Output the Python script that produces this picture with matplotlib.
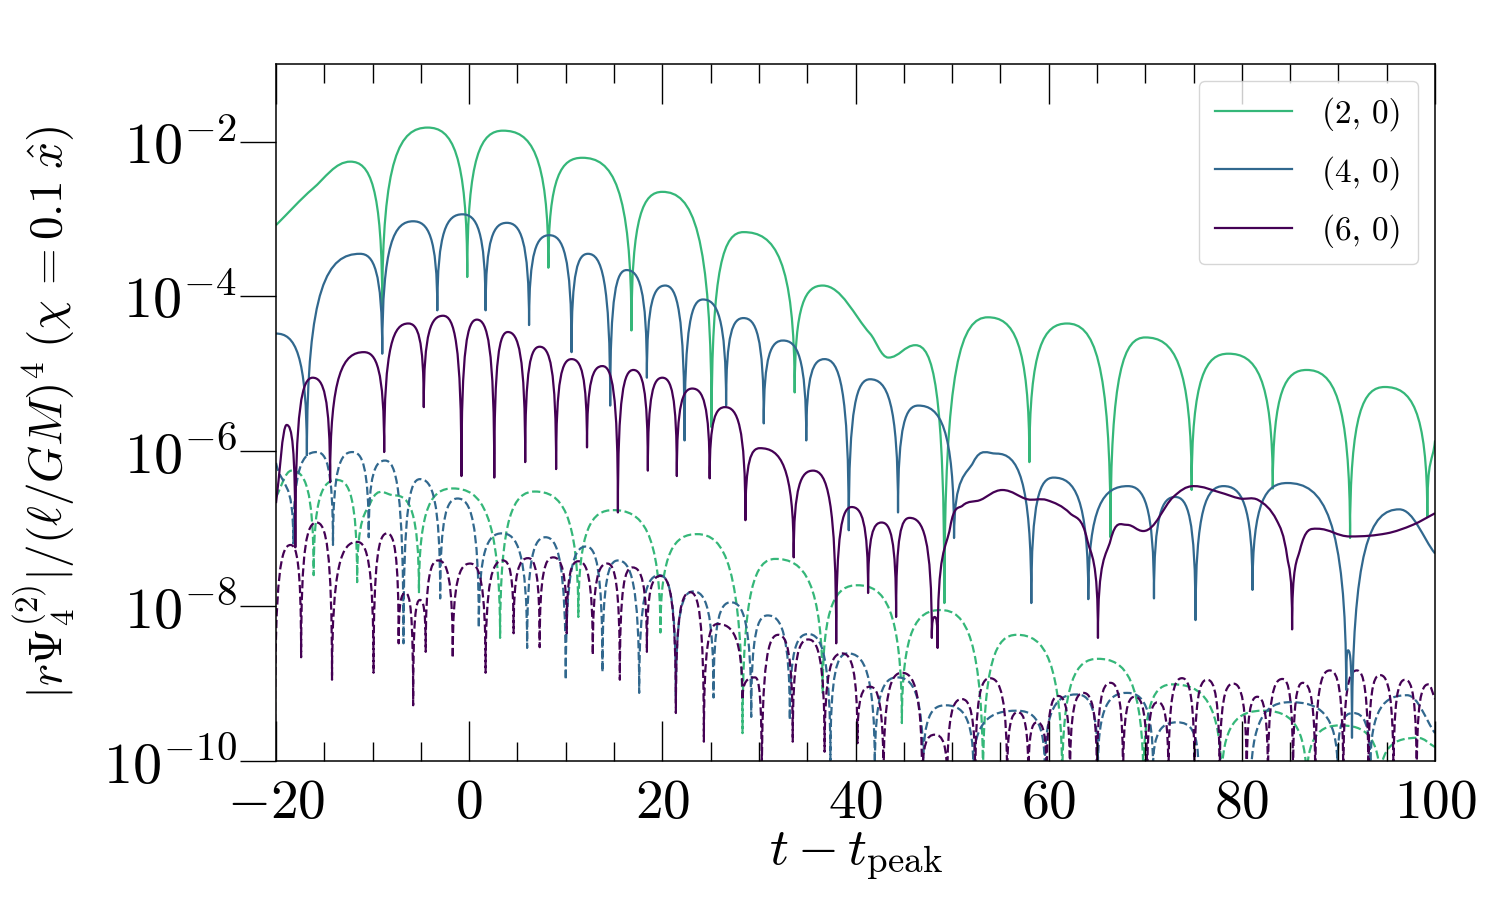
"""
|r Psi_4^(2)| for the (2,0), (4,0), (6,0) modes, chi = 0.1 x-hat.
Solid and dashed curves are drawn as smooth arches between the read-off
extrema (cusps 'c', smooth peaks 'p', pass-through points 'e').
"""
import numpy as np
import matplotlib
matplotlib.use("Agg")
import matplotlib.pyplot as plt
from matplotlib.path import Path
from matplotlib.patches import PathPatch
from matplotlib.lines import Line2D
from matplotlib.font_manager import FontProperties
from matplotlib.ticker import FixedLocator, FuncFormatter, MultipleLocator, NullLocator

plt.rcParams["mathtext.fontset"] = "cm"
plt.rcParams["font.family"] = "serif"
plt.rcParams["font.serif"] = ["DejaVu Serif"]

GREEN = "#35b779"
BLUE = "#31688e"
PURPLE = "#440154"

LABELS = ["(2, 0)", "(4, 0)", "(6, 0)"]

# ---- (2,0) solid ----
g_t = [-20, -16.2, -12.3, -9.0, -4.3, -0.2, 3.5, 8.2, 11.7, 16.8, 20.0, 25.1, 28.4, 33.7,
       36.6, 41.5, 43.4, 46.2, 49.2, 53.7, 58.0, 61.9, 66.4, 70.0, 74.8, 78.6, 83.2, 86.7,
       91.2, 94.8, 99.2, 100]
g_lg = [-3.08, -2.61, -2.26, -4.15, -1.82, -3.75, -1.86, -3.63, -2.21, -4.44, -2.65, -5.69,
        -3.17, -5.24, -3.86, -4.48, -4.79, -4.63, -7.96, -4.27, -6.14, -4.35, -7.11, -4.53,
        -6.50, -4.74, -6.48, -4.95, -7.12, -5.17, -6.85, -5.86]
g_k = "ee" + "pc" * 6 + "p" + "eppc" + "pc" * 6 + "e"

# ---- (4,0) solid ----
b_t = [-20, -16.8, -11.3, -9.0, -5.8, -3.3, -0.7, 1.7, 3.9, 6.2, 8.3, 10.6, 12.3, 14.6, 16.3,
       18.4, 20.3, 22.3, 24.2, 26.6, 28.4, 30.5, 32.5, 34.9, 36.8, 39.3, 41.5, 44.4, 46.5,
       50.2, 52.2, 54.6, 58.2, 60.5, 64.1, 68.2, 70.9, 73.1, 75.2, 78.1, 81.1, 84.7, 90.8,
       91.0, 91.4, 96.3, 100]
b_lg = [-4.48, -6.05, -3.45, -4.74, -3.03, -4.18, -2.94, -4.18, -3.05, -4.37, -3.21, -4.72,
        -3.45, -5.41, -3.66, -5.05, -3.86, -5.86, -4.04, -5.41, -4.28, -5.64, -4.57, -5.86,
        -4.81, -7.02, -5.07, -6.79, -5.41, -7.12, -6.14, -6.03, -7.96, -6.34, -7.91, -6.45,
        -7.90, -6.59, -8.18, -6.45, -7.79, -6.41, -9.08, -8.57, -9.70, -6.75, -7.32]
b_k = "pc" * 15 + "e" + "pc" * 7 + "pe"

# ---- (6,0) solid ----
p_t = [-20, -18.9, -18.0, -16.2, -14.4, -10.9, -8.8, -6.3, -4.7, -2.7, -0.8, 0.8, 2.6, 4.0,
       5.8, 7.3, 9.0, 10.6, 12.2, 13.8, 15.4, 17.0, 18.5, 20.0, 21.5, 23.1, 24.9, 26.5, 28.6,
       30.1, 33.6, 35.6, 38.0, 39.6, 41.3, 42.7, 44.2, 45.6, 47.9, 48.2, 48.5, 49.8, 51.1,
       52.9, 55.2, 57.8, 59.8, 62.2, 64.0, 65.1, 66.4, 68.1, 69.8, 72.9, 75.0, 77.7, 79.8,
       81.7, 83.6, 84.7, 85.2, 86.0, 87.8, 91.2, 95.0, 97.7, 100]
p_lg = [-6.67, -5.66, -7.24, -5.05, -6.40, -4.72, -6.01, -4.35, -5.43, -4.25, -6.32, -4.30,
        -6.34, -4.46, -6.14, -4.65, -6.23, -4.81, -5.95, -4.90, -6.79, -4.95, -6.25, -5.05,
        -6.32, -5.19, -6.35, -5.43, -6.89, -5.96, -7.37, -6.25, -8.48, -6.72, -7.83, -6.92,
        -8.14, -6.86, -8.41, -8.14, -8.54, -6.98, -6.70, -6.63, -6.50, -6.62, -6.63, -6.80,
        -7.15, -8.41, -7.15, -6.95, -7.03, -6.59, -6.45, -6.53, -6.61, -6.63, -6.89, -7.37,
        -8.30, -7.28, -7.00, -7.10, -7.06, -6.95, -6.80]
p_k = "e" + "pc" * 20 + "eeepeeeece" + "ppep" + "eeeeece" + "ppeee"

# ---- (2,0) dashed ----
gd_t = [-20, -18.4, -16.1, -13.7, -11.6, -10.2, -7.7, -5.2, -1.7, 3.2, 6.8, 11.3, 14.9, 19.8,
        23.6, 28.3, 31.7, 36.6, 40.2, 44.8, 48.8, 53.2, 56.7, 61.4, 65.1, 69.8, 72.8, 77.9,
        82.2, 86.7, 90.2, 94.3, 98.2, 100]
gd_lg = [-6.59, -6.25, -7.60, -6.37, -7.69, -6.66, -6.57, -7.82, -6.48, -8.41, -6.52, -8.14,
         -6.76, -8.34, -7.07, -9.64, -7.39, -9.12, -7.73, -9.51, -8.05, -10.3, -8.37, -10.3,
         -8.68, -10.3, -9.01, -10.3, -9.35, -10.3, -9.54, -10.3, -9.70, -9.82]
gd_k = "epcpce" + "p" + "cp" * 13 + "e"

# ---- (4,0) dashed ----
bd_t = [-20, -18.2, -15.8, -14.1, -12.1, -10.4, -8.7, -6.8, -5.1, -3.0, -1.2, 1.0, 3.4, 6.0,
        7.9, 10.0, 12.1, 13.8, 15.4, 17.6, 19.7, 21.4, 23.2, 25.3, 27.1, 29.2, 30.9, 33.2,
        35.1, 37.4, 39.2, 42.0, 44.3, 47.0, 49.3, 52.2, 56.7, 59.6, 62.9, 65.1, 68.1, 70.8,
        73.3, 75.5, 78.2, 80.9, 85.0, 89.9, 91.5, 93.3, 97.1, 100]
bd_lg = [-6.15, -7.19, -6.01, -7.21, -6.01, -7.11, -6.12, -8.48, -6.36, -7.90, -6.61, -8.28,
         -7.06, -8.54, -7.11, -8.95, -7.23, -8.85, -7.41, -9.12, -7.60, -9.20, -7.81, -9.18,
         -7.95, -9.43, -8.12, -9.47, -8.36, -9.99, -8.61, -10.1, -8.92, -10.1, -9.28, -10.1,
         -9.35, -10.1, -9.14, -10.1, -9.12, -10.1, -9.50, -10.1, -10.15, -10.4, -9.24, -10.1,
         -9.38, -10.1, -9.15, -9.64]
bd_k = "e" + "cp" * 25 + "e"

# ---- (6,0) dashed ----
pd_t = [-20.1, -18.5, -17.4, -15.8, -14.2, -11.6, -9.9, -8.5, -7.3, -6.6, -5.8, -5.1, -4.5,
        -3.2, -1.7, 0.1, 1.7, 3.5, 4.6, 6.1, 7.3, 8.7, 10.1, 11.3, 12.8, 14.3, 15.6, 16.9,
        18.4, 19.8, 21.4, 22.9, 24.3, 25.7, 28.3, 29.6, 30.3, 32.0, 33.5, 35.1, 36.8, 38.6,
        40.2, 41.5, 42.9, 44.8, 46.9, 48.2, 49.5, 51.0, 52.4, 53.9, 55.7, 56.8, 57.9, 58.8,
        59.8, 61.0, 62.2, 63.6, 65.0, 66.4, 67.7, 68.9, 70.2, 71.3, 72.4, 73.8, 75.1, 76.4,
        77.7, 79.1, 80.5, 81.6, 82.7, 84.2, 85.3, 86.3, 87.6, 89.1, 90.5, 91.9, 93.1, 94.3,
        95.7, 96.9, 98.1, 99.3, 100]
pd_lg = [-9.5, -7.21, -8.66, -6.92, -8.95, -7.17, -8.86, -7.06, -8.48, -7.83, -9.28, -7.92,
         -8.59, -7.41, -8.67, -7.45, -8.86, -7.41, -8.35, -7.38, -8.53, -7.37, -8.35, -7.42,
         -8.63, -7.45, -8.95, -7.50, -8.59, -7.61, -9.38, -7.82, -9.75, -8.23, -9.21, -8.92,
         -10.3, -8.37, -9.75, -8.43, -9.88, -8.61, -9.77, -9.04, -10.3, -8.86, -10.3, -9.66,
         -10.3, -9.20, -10.3, -8.93, -10.3, -9.37, -10.3, -9.50, -10.3, -9.16, -10.3, -9.12,
         -10.3, -8.99, -10.3, -9.17, -10.3, -9.24, -10.3, -8.93, -10.3, -8.95, -10.3, -9.00,
         -10.3, -9.17, -10.3, -8.94, -10.3, -8.99, -10.3, -8.83, -10.3, -8.83, -10.3, -8.89,
         -10.3, -8.95, -10.3, -9.01, -9.2]
pd_k = "cp" * 44 + "e"


def _handle(pts, kinds, i, step):
    """Bezier handle leaving node i towards node i+step (in t, log10 units)."""
    j = i + step
    d = pts[j] - pts[i]
    kind = kinds[i]
    if kind == "c":
        return np.array([0.0, 0.85 * d[1]])
    if kind == "p":
        frac = 0.6 if kinds[j] == "c" else 0.4
        return np.array([frac * d[0], 0.0])
    prev = pts[max(i - 1, 0)]
    nxt = pts[min(i + 1, len(pts) - 1)]
    tang = nxt - prev
    scale = abs(d[0]) / max(abs(tang[0]), 1e-9) / 3.0
    return step * tang * scale


def curve_path(t, lg, kinds):
    pts = np.column_stack([t, lg]).astype(float)
    if len(kinds) != len(pts):
        raise ValueError(f"{len(kinds)} kinds for {len(pts)} points")
    verts = [pts[0]]
    codes = [Path.MOVETO]
    for i in range(len(pts) - 1):
        verts.append(pts[i] + _handle(pts, kinds, i, +1))
        verts.append(pts[i + 1] + _handle(pts, kinds, i + 1, -1))
        verts.append(pts[i + 1])
        codes += [Path.CURVE4] * 3
    verts = np.array(verts)
    verts[:, 1] = 10.0 ** verts[:, 1]
    return Path(verts, codes)


fig = plt.figure(figsize=(15, 9), dpi=100)
ax = fig.add_axes([0.184, 0.1544, 0.7727, 0.7744])
ax.set_yscale("log")

series = [
    (gd_t, gd_lg, gd_k, GREEN, "--"),
    (bd_t, bd_lg, bd_k, BLUE, "--"),
    (pd_t, pd_lg, pd_k, PURPLE, "--"),
    (g_t, g_lg, g_k, GREEN, "-"),
    (b_t, b_lg, b_k, BLUE, "-"),
    (p_t, p_lg, p_k, PURPLE, "-"),
]
for t, lg, k, color, ls in series:
    patch = PathPatch(curve_path(t, lg, k), facecolor="none", edgecolor=color,
                      linewidth=1.6, linestyle=ls, capstyle="butt", joinstyle="round")
    ax.add_patch(patch)

ax.set_xlim(-20, 100)
ax.set_ylim(1e-10, 1e-1)

ax.xaxis.set_major_locator(MultipleLocator(20))
ax.xaxis.set_minor_locator(MultipleLocator(5))
ax.xaxis.set_major_formatter(FuncFormatter(lambda v, pos: rf"${int(round(v))}$"))
ax.tick_params(axis="x", which="both", direction="in", top=True, bottom=True,
               labelsize=40, pad=10)
ax.tick_params(axis="x", which="major", length=29, width=1.0)
ax.tick_params(axis="x", which="minor", length=14, width=1.0)

ax.yaxis.set_major_locator(FixedLocator([1e-10, 1e-8, 1e-6, 1e-4, 1e-2]))
ax.yaxis.set_minor_locator(NullLocator())
ax.yaxis.set_major_formatter(
    FuncFormatter(lambda v, pos: rf"$10^{{{int(round(np.log10(v)))}}}$"))
ax.tick_params(axis="y", which="major", direction="out", left=True, right=False,
               length=26, width=1.0, labelsize=42, pad=2)

for sp in ax.spines.values():
    sp.set_linewidth(1.1)

ax.set_xlabel(r"$t - t_{\rm peak}$", fontsize=38, labelpad=0)
ax.set_ylabel(r"$|r\Psi_4^{(2)}|/(\ell/GM)^4\;(\chi\,=0.1\;\hat{x})$", fontsize=34,
              labelpad=18)

handles = [Line2D([], [], color=c, lw=1.6) for c in (GREEN, BLUE, PURPLE)]
leg = ax.legend(handles, LABELS, loc="upper right",
                prop=FontProperties(family="cmr10", size=24), handlelength=2.3,
                handletextpad=0.9, labelspacing=0.73, borderpad=0.5, fancybox=True,
                framealpha=0.8, edgecolor="0.8")

fig.savefig("out.png", dpi=100)
